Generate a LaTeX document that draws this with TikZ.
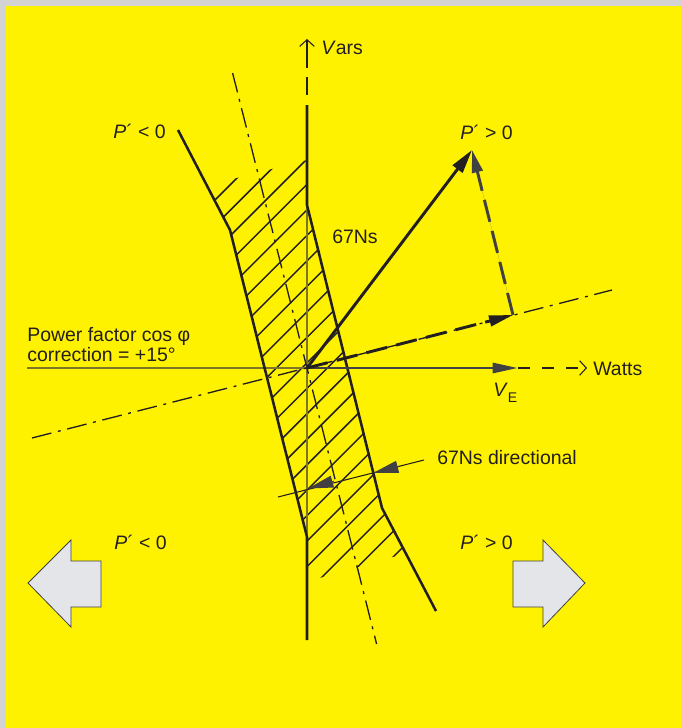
\documentclass[tikz,border=0pt]{standalone}
\usepackage{fontspec}
\setmainfont{Liberation Sans}
\usetikzlibrary{arrows.meta, calc}
\definecolor{PageGray}{RGB}{211,211,212}
\definecolor{PanelYellow}{RGB}{255,242,0}
\definecolor{InkDark}{RGB}{35,31,32}
\definecolor{InkGray}{RGB}{65,64,66}
\definecolor{AxisOlive}{RGB}{125,118,40}
\definecolor{BlockFill}{RGB}{228,229,232}

\begin{document}
\begin{tikzpicture}[
  x=0.75pt, y=-0.75pt,
  every node/.style={font=\fontsize{14.6}{17}\selectfont, text=InkDark, inner sep=0pt, anchor=base west},
  bound/.style={draw=InkDark, line width=1.9pt},
  hatch/.style={draw=InkDark, line width=1.1pt},
  hair/.style={draw=InkDark, line width=0.8pt},
  axisline/.style={draw=AxisOlive, line width=1.4pt},
  dashdot/.style={draw=InkDark, line width=1pt, dash pattern=on 15pt off 5pt on 2.2pt off 5pt},
  vector/.style={draw=InkDark, line width=2.2pt, -{Triangle[length=18pt, width=9pt]}},
  openhead/.style={-{Straight Barb[length=5pt, width=11pt]}},
  block/.style={fill=BlockFill, draw=InkGray, line width=0.6pt}
]
\useasboundingbox (0,0) rectangle (681,728);
\fill[PageGray] (0,0) rectangle (681,728);
\fill[PanelYellow] (6,6) rectangle (681,728);

\coordinate (O) at (307,368);
\coordinate (varsTip) at (307,39);
\coordinate (varsFoot) at (307,68);
\coordinate (dashTop) at (307,77);
\coordinate (dashBot) at (307,95);
\coordinate (bandTop) at (307,105);
\coordinate (kinkRT) at (307,205);
\coordinate (kinkRB) at (382,508);
\coordinate (endR) at (436,611);
\coordinate (startL) at (178,130);
\coordinate (kinkLT) at (230,230);
\coordinate (kinkLB) at (307,537);
\coordinate (endL) at (307,640);
\coordinate (cenTop) at (232.6,73);
\coordinate (cenBot) at (376.6,644);
\coordinate (tiltL) at (32,438);
\coordinate (tiltR) at (612,290);
\coordinate (wattsL) at (27,368);
\coordinate (veTip) at (518,368);
\coordinate (wattsTip) at (587,368);
\coordinate (nsTip) at (472,150);
\coordinate (projTip) at (513,315);
\coordinate (dirR) at (424,460);
\coordinate (dirL) at (278,497);
\coordinate (cutR) at (373,473);
\coordinate (cutA) at (308,488.5);

\begin{scope}
  \clip (206.6,185.8) -- (kinkLT) -- (kinkLB) -- (307,581.6) -- (405.7,553.3) -- (kinkRB) -- (kinkRT) -- (307,160) -- cycle;
  \foreach \k in {0,...,21}
    \draw[hatch] ({415+25.48*\k-700},700) -- ({415+25.48*\k},0);
\end{scope}

\draw[axisline] (kinkRT) -- (kinkLB);
\draw[axisline] (wattsL) -- (O);
\draw[dashdot] (cenTop) -- (cenBot);
\draw[dashdot] (tiltL) -- (tiltR);

\draw[bound] (startL) -- (kinkLT) -- (kinkLB) -- (endL);
\draw[bound] (bandTop) -- (kinkRT) -- (kinkRB) -- (endR);
\draw[bound] (dashTop) -- (dashBot);
\draw[hair, openhead] (varsFoot) -- (varsTip);

\draw[vector, draw=InkGray, -{Triangle[length=19pt, width=7.5pt]}] (O) -- (veTip);
\draw[hair, dash pattern=on 9pt off 9pt, openhead] (veTip) -- (wattsTip);
\draw[vector] (O) -- (nsTip);
\draw[vector, dash pattern=on 16pt off 7pt, -{Triangle[length=18pt, width=8pt]}] (O) -- (projTip);
\draw[vector, draw=InkGray, fill=InkGray, dash pattern=on 17pt off 7pt, -{Triangle[length=17pt, width=8pt]}] (projTip) -- (nsTip);

\draw[hair] (dirR) -- (dirL);
\draw[hair, draw=InkGray, -{Triangle[length=19pt, width=9pt]}] ($(cutR)!-20pt!(dirL)$) -- (cutR);
\draw[hair, draw=InkGray, -{Triangle[length=19pt, width=9pt]}] ($(cutA)!-20pt!(dirL)$) -- (cutA);

\draw[block] (28,583) -- (71,540) -- (71,561) -- (101,561) -- (101,607) -- (71,607) -- (71,627) -- cycle;
\draw[block] (585,583) -- (543,540) -- (543,561) -- (513,561) -- (513,607) -- (543,607) -- (543,627) -- cycle;

\node (vars) at (321,54) {\textit{V}ars};
\node (pnegTop) at (113,138) {\textit{P}´ < 0};
\node (pposTop) at (460,139) {\textit{P}´ > 0};
\node (ns67) at (332,243) {67Ns};
\node (pf1) at (27,341) {Power factor cos φ};
\node (pf2) at (27,361) {correction = +15°};
\node (ve) at (493,396) {\textit{V}\raisebox{-4.5pt}{\fontsize{10.5}{12}\selectfont E}};
\node (watts) at (593,375) {Watts};
\node (dirLabel) at (437,464) {67Ns directional};
\node (pnegBot) at (114,549) {\textit{P}´ < 0};
\node (pposBot) at (460,549) {\textit{P}´ > 0};
\end{tikzpicture}
\end{document}
